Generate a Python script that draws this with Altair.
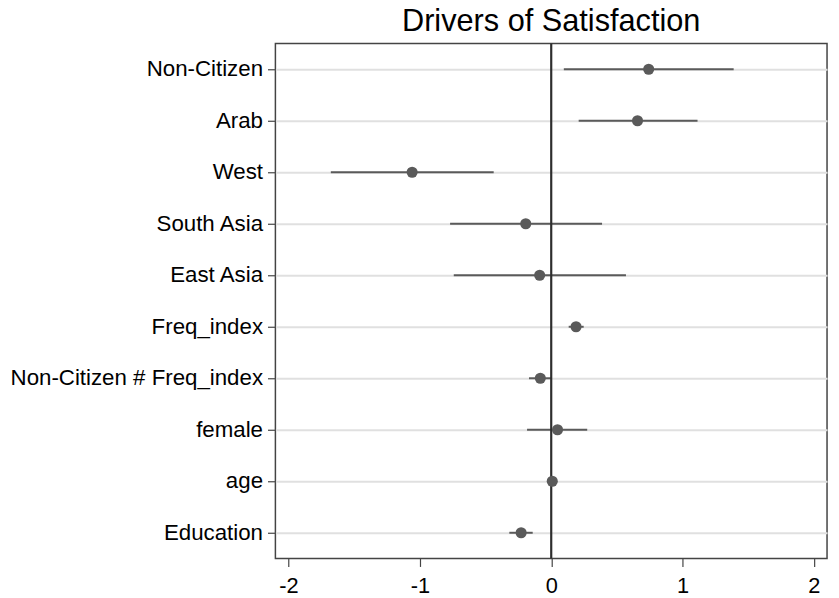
import altair as alt
import pandas as pd

variables = ["Non-Citizen", "Arab", "West", "South Asia", "East Asia",
             "Freq_index", "Non-Citizen # Freq_index", "female", "age", "Education"]
coef = [0.742, 0.657, -1.059, -0.194, -0.088, 0.189, -0.083, 0.048, 0.008, -0.229]
ci_low = [0.096, 0.209, -1.678, -0.770, -0.742, 0.133, -0.169, -0.184, -0.002, -0.319]
ci_high = [1.389, 1.114, -0.438, 0.387, 0.569, 0.247, 0.000, 0.274, 0.018, -0.141]
x_ticks = [-2, -1, 0, 1, 2]

df = pd.DataFrame({"var": variables, "coef": coef, "lo": ci_low, "hi": ci_high})
zero = pd.DataFrame({"z": [0]})

FONT = "Liberation Sans"
GRAY = "#5a5a5a"

xscale = alt.Scale(domain=[-2.1, 2.1], nice=False, zero=False)
yaxis = alt.Axis(title=None, grid=True, gridColor="#e0e0e0", gridWidth=2,
                 domain=False, ticks=True, tickSize=8, tickColor="#444",
                 tickWidth=1.2, labelFont=FONT, labelFontSize=22.5,
                 labelColor="#000", labelPadding=5, labelLimit=400)
xaxis = alt.Axis(title=None, values=x_ticks, grid=False, domain=False,
                 ticks=True, tickSize=8, tickColor="#444", tickWidth=1.2,
                 labelFont=FONT, labelFontSize=22, labelColor="#000",
                 labelPadding=9, labelExpr="'' + datum.value")

ysc = alt.Y("var:N", sort=variables, axis=yaxis)

bars = alt.Chart(df).mark_rule(color=GRAY, strokeWidth=2).encode(
    x=alt.X("lo:Q", scale=xscale, axis=xaxis),
    x2="hi:Q",
    y=ysc,
)

zline = alt.Chart(zero).mark_rule(color="#2e2e2e", strokeWidth=2.2).encode(
    x=alt.X("z:Q", scale=xscale),
)

points = alt.Chart(df).mark_circle(color=GRAY, size=125, opacity=1).encode(
    x=alt.X("coef:Q", scale=xscale),
    y=alt.Y("var:N", sort=variables),
)

chart = alt.layer(bars, zline, points).properties(
    width=557,
    height=520,
    title=alt.TitleParams("Drivers of Satisfaction", font=FONT, fontSize=31,
                          fontWeight="normal", color="#000", anchor="middle",
                          offset=5),
    autosize=alt.AutoSizeParams(type="none"),
    padding={"left": 270, "top": 33, "right": 4, "bottom": 37},
).configure(
    background="white"
).configure_view(
    stroke="#444444", strokeWidth=1.5
)

chart.save("out.html", embed_options={"renderer": "svg", "actions": False})
